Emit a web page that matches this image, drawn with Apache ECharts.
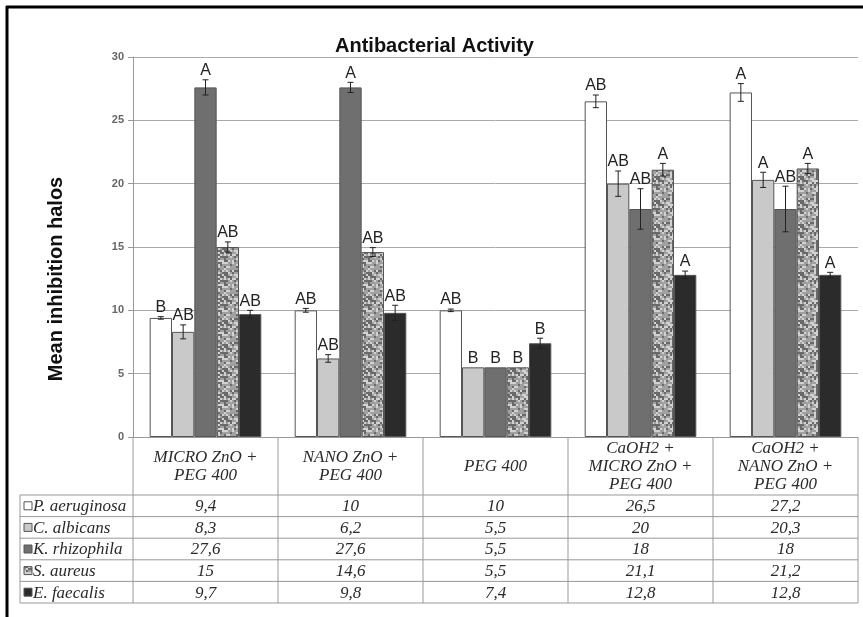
<!DOCTYPE html>
<html>
<head>
<meta charset="utf-8">
<script src="https://cdn.jsdelivr.net/npm/echarts@6/dist/echarts.min.js"></script>
<style>
  html, body { margin: 0; padding: 0; background: #fff; }
  #chart { width: 863px; height: 617px; }
</style>
</head>
<body>
<div id="chart"></div>
<script>
// categories (table header) and series names
var categories = ['MICRO ZnO +\nPEG 400', 'NANO ZnO +\nPEG 400', 'PEG 400',
    'CaOH2 +\nMICRO ZnO +\nPEG 400', 'CaOH2 +\nNANO ZnO +\nPEG 400'];
var seriesNames = ['P. aeruginosa', 'C. albicans', 'K. rhizophila', 'S. aureus', 'E. faecalis'];

// mean values
var pAeruginosa = [9.4, 10, 10, 26.5, 27.2];
var cAlbicans = [8.3, 6.2, 5.5, 20, 20.3];
var kRhizophila = [27.6, 27.6, 5.5, 18, 18];
var sAureus = [15, 14.6, 5.5, 21.1, 21.2];
var eFaecalis = [9.7, 9.8, 7.4, 12.8, 12.8];

// error bar half-widths
var errPA = [0.1, 0.15, 0.1, 0.5, 0.7];
var errCA = [0.55, 0.3, 0, 1.0, 0.6];
var errKR = [0.6, 0.4, 0, 1.6, 1.8];
var errSA = [0.4, 0.35, 0, 0.5, 0.4];
var errEF = [0.3, 0.6, 0.4, 0.3, 0.2];

// significance letters
var letPA = ['B', 'AB', 'AB', 'AB', 'A'];
var letCA = ['AB', 'AB', 'B', 'AB', 'A'];
var letKR = ['A', 'A', 'B', 'AB', 'AB'];
var letSA = ['AB', 'AB', 'B', 'A', 'A'];
var letEF = ['AB', 'AB', 'B', 'A', 'A'];

var yTicks = [0, 5, 10, 15, 20, 25, 30];

var values = [pAeruginosa, cAlbicans, kRhizophila, sAureus, eFaecalis];
var errors = [errPA, errCA, errKR, errSA, errEF];
var letters = [letPA, letCA, letKR, letSA, letEF];

// mottled texture for S. aureus (deterministic)
function speckle() {
    var N = 24;
    var c = document.createElement('canvas');
    c.width = N; c.height = N;
    var ctx = c.getContext('2d');
    var img = ctx.createImageData(N, N);
    for (var y = 0; y < N; y++) {
        for (var x = 0; x < N; x++) {
            var n = Math.sin(Math.floor(x / 2) * 12.9898 + Math.floor(y / 2) * 78.233) * 43758.5453;
            n = n - Math.floor(n);
            var g = n < 0.3 ? 105 : (n < 0.7 ? 160 : 210);
            var k = (y * N + x) * 4;
            img.data[k] = g; img.data[k + 1] = g; img.data[k + 2] = g; img.data[k + 3] = 255;
        }
    }
    ctx.putImageData(img, 0, 0);
    return c;
}
var patternFill = { image: speckle(), repeat: 'repeat' };
var colors = ['#ffffff', '#c9c9c9', '#6f6f6f', patternFill, '#2b2b2b'];

var GAP = 0.23;
var sans = '"Liberation Sans", Arial, sans-serif';
var chart = echarts.init(document.getElementById('chart'));

var series = [];
values.forEach(function (vals, i) {
    series.push({
        name: seriesNames[i],
        type: 'bar',
        data: vals,
        barGap: 0,
        barCategoryGap: (GAP * 100) + '%',
        itemStyle: { color: colors[i], borderColor: '#555', borderWidth: 1 },
        silent: true
    });
});
values.forEach(function (vals, i) {
    series.push({
        type: 'custom',
        z: 5,
        silent: true,
        data: vals.map(function (v, j) { return [j, v, errors[i][j]]; }),
        renderItem: function (params, api) {
            var j = api.value(0), v = api.value(1), e = api.value(2);
            var catW = api.size([1, 0])[0];
            var bw = catW * (1 - GAP) / 5;
            var cx = api.coord([j, 0])[0] + (i - 2) * bw;
            var top = api.coord([j, v + e])[1];
            var bot = api.coord([j, v - e])[1];
            var st = { stroke: '#222', lineWidth: 1 };
            var kids = [];
            if (e > 0) {
                kids.push({ type: 'line', shape: { x1: cx, y1: top, x2: cx, y2: bot }, style: st });
                kids.push({ type: 'line', shape: { x1: cx - 3, y1: top, x2: cx + 3, y2: top }, style: st });
                kids.push({ type: 'line', shape: { x1: cx - 3, y1: bot, x2: cx + 3, y2: bot }, style: st });
            }
            kids.push({
                type: 'text',
                style: {
                    x: cx, y: top - 1, text: letters[i][params.dataIndex],
                    align: 'center', verticalAlign: 'bottom',
                    font: '16px ' + sans, fill: '#222'
                }
            });
            return { type: 'group', children: kids };
        }
    });
});

chart.setOption({
    animation: false,
    backgroundColor: '#fff',
    title: {
        text: 'Antibacterial Activity',
        left: 330, top: 31,
        textStyle: { fontSize: 20, fontWeight: 'bold', color: '#111', fontFamily: sans }
    },
    grid: { left: 133, right: 5, top: 57, bottom: 180 },
    xAxis: {
        type: 'category',
        data: categories,
        axisLine: { lineStyle: { color: '#999' } },
        axisTick: { show: false },
        axisLabel: { show: false }
    },
    yAxis: {
        type: 'value',
        min: 0, max: 30, interval: 5,
        axisLine: { show: true, lineStyle: { color: '#999' } },
        axisTick: { show: true, length: 5, lineStyle: { color: '#999' } },
        axisLabel: {
            fontSize: 11, fontWeight: 'bold', color: '#666', margin: 9,
            formatter: function (v) { return yTicks.indexOf(v) >= 0 ? String(v) : ''; }
        },
        splitLine: { lineStyle: { color: '#aaa' } }
    },
    series: series
});

// data table below the plot, laid out from the axis positions
var gridRect = { left: 133, right: 858, top: 57, bottom: 437 };
var catW = (gridRect.right - gridRect.left) / categories.length;
var headerBottom = 495, rowH = 21.6, tableLeft = 20;
var lineColor = '#999';
var serif = 'italic 17px "Liberation Serif", "Times New Roman", serif';
var g = [];

// outer frame (left and top edges visible)
g.push({ type: 'line', shape: { x1: 7, y1: 6, x2: 7, y2: 617 }, style: { stroke: '#000', lineWidth: 3 } });
g.push({ type: 'line', shape: { x1: 6, y1: 7, x2: 863, y2: 7 }, style: { stroke: '#000', lineWidth: 3 } });

// y axis title
g.push({
    type: 'text', x: 56, y: 279, rotation: Math.PI / 2,
    style: { x: 0, y: 0, text: 'Mean inhibition halos', align: 'center', verticalAlign: 'middle', font: 'bold 20px ' + sans, fill: '#111' }
});

var tableBottom = headerBottom + rowH * seriesNames.length;
for (var c = 0; c <= categories.length; c++) {
    var x = gridRect.left + c * catW;
    g.push({ type: 'line', shape: { x1: x, y1: gridRect.bottom, x2: x, y2: tableBottom }, style: { stroke: lineColor, lineWidth: 1 } });
}
g.push({ type: 'line', shape: { x1: tableLeft, y1: headerBottom, x2: tableLeft, y2: tableBottom }, style: { stroke: lineColor, lineWidth: 1 } });
for (var r = 0; r <= seriesNames.length; r++) {
    var y = headerBottom + r * rowH;
    g.push({ type: 'line', shape: { x1: tableLeft, y1: y, x2: gridRect.right, y2: y }, style: { stroke: lineColor, lineWidth: 1 } });
}
categories.forEach(function (cat, j) {
    var cx = chart.convertToPixel({ xAxisIndex: 0 }, j);
    g.push({
        type: 'text',
        style: {
            x: cx, y: (gridRect.bottom + headerBottom) / 2 + 1, text: cat,
            align: 'center', verticalAlign: 'middle', lineHeight: 18,
            font: serif, fill: '#2a2a2a'
        }
    });
    values.forEach(function (vals, i) {
        g.push({
            type: 'text',
            style: {
                x: cx, y: headerBottom + (i + 0.5) * rowH + 1,
                text: String(vals[j]).replace('.', ','),
                align: 'center', verticalAlign: 'middle',
                font: serif, fill: '#2a2a2a'
            }
        });
    });
});
seriesNames.forEach(function (name, i) {
    var cy = headerBottom + (i + 0.5) * rowH;
    g.push({ type: 'rect', shape: { x: 24, y: cy - 4, width: 8, height: 8 }, style: { fill: colors[i], stroke: '#555', lineWidth: 1 } });
    g.push({
        type: 'text',
        style: { x: 33, y: cy + 1, text: name, align: 'left', verticalAlign: 'middle', font: serif, fill: '#2a2a2a' }
    });
});

chart.setOption({ graphic: g });
</script>
</body>
</html>
